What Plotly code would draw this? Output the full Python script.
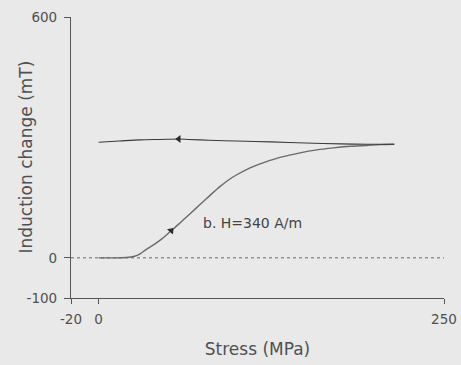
import plotly.graph_objects as go

# Loading curve (stress increasing)
load_stress = [0, 10, 20, 26, 30, 34, 40, 46, 52, 58, 64, 70, 76, 82, 88, 94, 100, 110, 120, 132, 145, 158, 170, 182, 194, 204, 214]
load_induct = [0, 0, 1, 4, 10, 20, 33, 48, 66, 84, 103, 122, 141, 160, 178, 194, 207, 225, 238, 251, 261, 269, 274, 278, 280, 282, 283]

# Unloading curve (stress decreasing)
unload_stress = [214, 195, 175, 150, 125, 100, 80, 65, 58, 45, 30, 15, 0]
unload_induct = [283, 283, 284, 286, 289, 291, 293, 295, 296, 295, 294, 291, 288]

# Direction arrows
arrow_load = (52.5, 68)
arrow_unload = (58, 296)

x_ticks = [-20, 0, 250]
y_ticks = [-100, 0, 600]

label = "b. H=340 A/m"
x_title = "Stress (MPa)"
y_title = "Induction change (mT)"
font = "DejaVu Sans, Arial, sans-serif"
grey = "#505050"
bg = "#e9e9e9"

fig = go.Figure()
fig.add_trace(go.Scatter(x=[-20, 250], y=[0, 0], mode="lines",
                         line=dict(color="#666666", width=1, dash="dot"), showlegend=False))
fig.add_trace(go.Scatter(x=load_stress, y=load_induct, mode="lines",
                         line=dict(color="#6a6a6a", width=1.4, shape="spline", smoothing=0.8),
                         showlegend=False))
fig.add_trace(go.Scatter(x=unload_stress, y=unload_induct, mode="lines",
                         line=dict(color="#3a3a3a", width=1.1, shape="spline", smoothing=0.8),
                         showlegend=False))
fig.add_trace(go.Scatter(x=[arrow_load[0]], y=[arrow_load[1]], mode="markers",
                         marker=dict(symbol="triangle-up", angle=42, size=7, color="#2a2a2a"),
                         showlegend=False))
fig.add_trace(go.Scatter(x=[arrow_unload[0]], y=[arrow_unload[1]], mode="markers",
                         marker=dict(symbol="triangle-left", size=7, color="#2a2a2a"),
                         showlegend=False))

fig.add_annotation(x=74, y=87, text=label, showarrow=False, xanchor="left", yanchor="middle",
                   font=dict(family=font, size=14, color="#444444"))

# y-axis title placed as rotated text (centre ~46 px left of the axis line)
fig.add_annotation(xref="paper", yref="paper", x=-46 / 373, y=0.5, text=y_title,
                   textangle=-90, showarrow=False, xanchor="center", yanchor="middle",
                   font=dict(family=font, size=17, color=grey))

fig.update_layout(
    width=461, height=365, autosize=False,
    margin=dict(l=71, r=17, t=17, b=67),
    paper_bgcolor=bg, plot_bgcolor=bg,
    font=dict(family=font, size=13.5, color=grey),
)
fig.update_xaxes(range=[-20, 250], tickvals=x_ticks, ticktext=[str(v) for v in x_ticks],
                 automargin=False,
                 showgrid=False, zeroline=False, showline=True, linecolor="#555555", linewidth=1.2,
                 ticks="outside", ticklen=5, tickcolor="#555555", ticklabelstandoff=4,
                 title=dict(text=x_title, font=dict(size=17, color=grey), standoff=16))
fig.update_yaxes(range=[-100, 600], tickvals=y_ticks, ticktext=[str(v) for v in y_ticks],
                 automargin=False,
                 showgrid=False, zeroline=False, showline=True, linecolor="#555555", linewidth=1.2,
                 ticks="outside", ticklen=6, tickcolor="#555555", ticklabelstandoff=4)

fig.write_html("out.html", config={"displayModeBar": False},
               post_script="document.body.style.margin='0';document.body.style.background='%s';" % bg)
